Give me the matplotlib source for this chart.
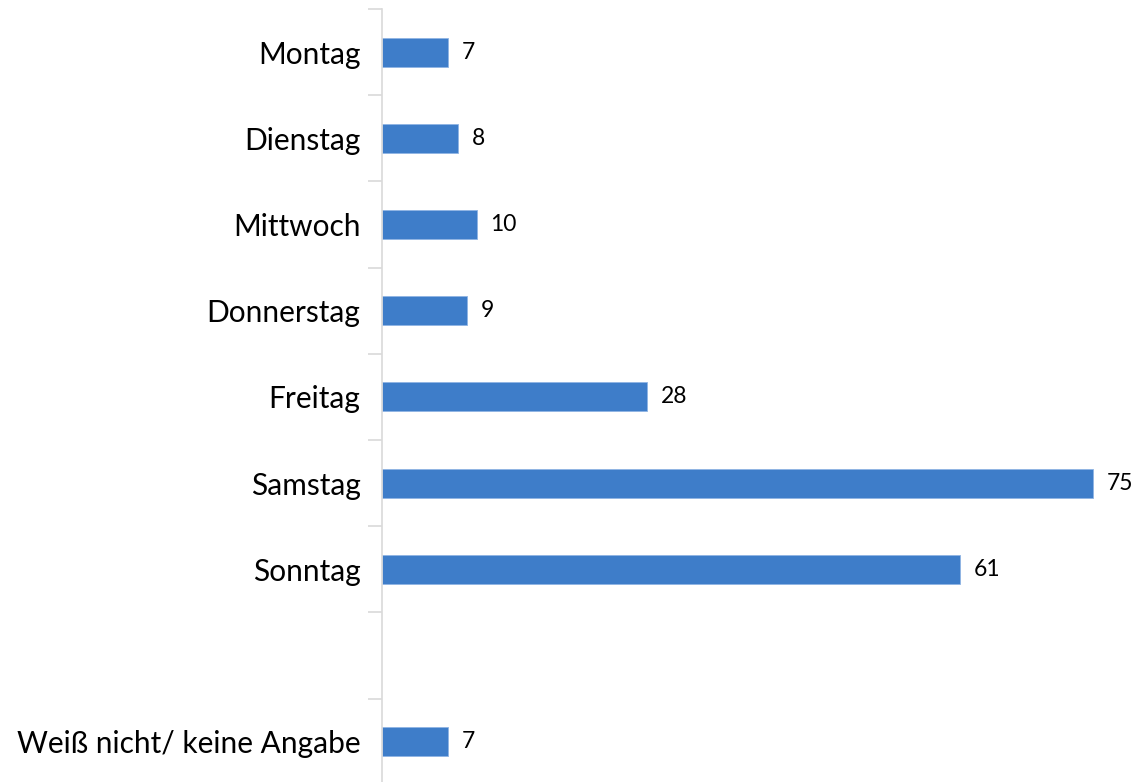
import matplotlib
matplotlib.use('Agg')
import matplotlib.pyplot as plt
import numpy as np

plt.rcParams['font.family'] = ['Lato', 'DejaVu Sans']

categories = ['Montag', 'Dienstag', 'Mittwoch', 'Donnerstag', 'Freitag',
              'Samstag', 'Sonntag', '', 'Weiß nicht/ keine Angabe']
values = [7, 8, 10, 9, 28, 75, 61, None, 7]

bar_color = '#3E7DC9'
W, H = 1136, 782

fig = plt.figure(figsize=(W / 100, H / 100), dpi=100)
# axes placed in pixels: left edge at the category axis line
top_px, slot_px = 9, 86.2
bottom_px = top_px + slot_px * len(categories)
ax = fig.add_axes([382 / W, (H - bottom_px) / H, (W - 382) / W, slot_px * len(categories) / H])

pos = np.arange(len(categories))
for p, v in zip(pos, values):
    if v is None:
        continue
    ax.barh(p, v, height=0.335, color=bar_color, edgecolor='#8FB4E3', linewidth=0.6)
    ax.text(v + 1.45, p, str(v), va='center', ha='left', fontsize=16.5, color='black')

ax.set_xlim(0, (W - 382) / 9.48)
ax.set_ylim(len(categories) - 0.5, -0.5)

ax.set_yticks(pos)
ax.set_yticklabels(categories, fontsize=21.5)
ax.set_yticks(np.arange(len(categories) + 1) - 0.5, minor=True)
ax.tick_params(axis='y', which='major', length=0, pad=15.5)
ax.tick_params(axis='y', which='minor', length=10, width=1.2, color='#D9D9D9')
ax.set_xticks([])

for s in ['top', 'right', 'bottom']:
    ax.spines[s].set_visible(False)
ax.spines['left'].set_color('#D9D9D9')
ax.spines['left'].set_linewidth(1.2)

fig.savefig('out.png', dpi=100)
